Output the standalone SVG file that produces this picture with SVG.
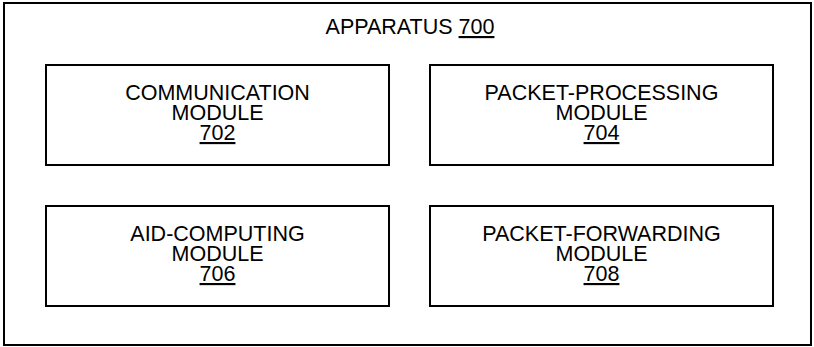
<svg xmlns="http://www.w3.org/2000/svg" width="814" height="347" viewBox="0 0 814 347">
<style>
.frame{fill:#fff;stroke:#000;stroke-width:2}
.box{fill:#fff;stroke:#000;stroke-width:2}
text{font-family:"Liberation Sans",Arial,sans-serif;font-size:21.5px;fill:#000;text-anchor:middle}
.u{text-decoration:underline}
</style>
<rect x="0" y="0" width="814" height="347" fill="#fff"/>
<g id="apparatus">
<rect class="frame" x="4" y="3" width="807" height="342"/>
<text x="410" y="34">APPARATUS <tspan class="u">700</tspan></text>
</g>
<g id="connectors"></g>
<g id="communication-module">
<rect class="box" x="46" y="65" width="343" height="100"/>
<text x="217.5" y="99.5">COMMUNICATION</text>
<text x="217.5" y="120">MODULE</text>
<text x="217.5" y="140" class="u">702</text>
</g>
<g id="packet-processing-module">
<rect class="box" x="430" y="65" width="343" height="100"/>
<text x="601.5" y="99.5">PACKET-PROCESSING</text>
<text x="601.5" y="120">MODULE</text>
<text x="601.5" y="140" class="u">704</text>
</g>
<g id="aid-computing-module">
<rect class="box" x="46" y="206" width="343" height="100"/>
<text x="217.5" y="240.5">AID-COMPUTING</text>
<text x="217.5" y="261">MODULE</text>
<text x="217.5" y="281" class="u">706</text>
</g>
<g id="packet-forwarding-module">
<rect class="box" x="430" y="206" width="343" height="100"/>
<text x="601.5" y="240.5">PACKET-FORWARDING</text>
<text x="601.5" y="261">MODULE</text>
<text x="601.5" y="281" class="u">708</text>
</g>
</svg>
